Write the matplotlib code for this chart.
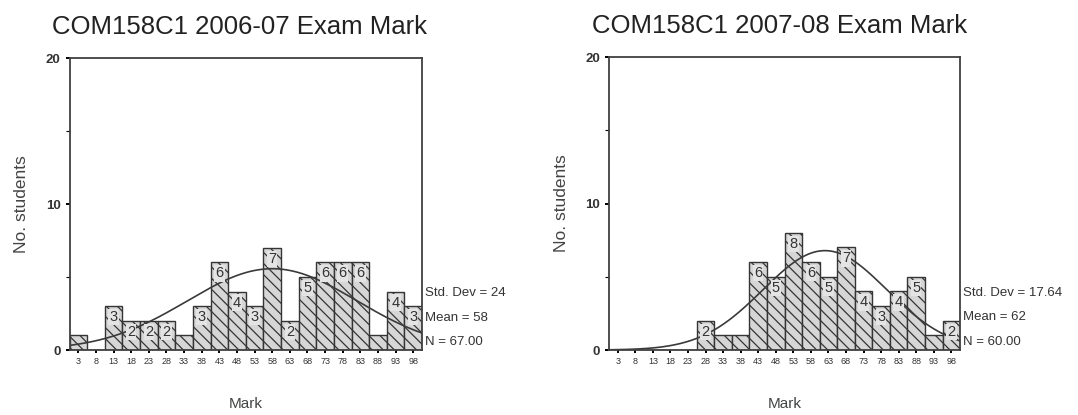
import numpy as np
import matplotlib.pyplot as plt
from matplotlib.ticker import MultipleLocator

# bin centres (width 5) and counts per bin
marks = [3, 8, 13, 18, 23, 28, 33, 38, 43, 48, 53, 58, 63, 68, 73, 78, 83, 88, 93, 98]
counts_0607 = [1, 0, 3, 2, 2, 2, 1, 3, 6, 4, 3, 7, 2, 5, 6, 6, 6, 1, 4, 3]
counts_0708 = [0, 0, 0, 0, 0, 2, 1, 1, 6, 5, 8, 6, 5, 7, 4, 3, 4, 5, 1, 2]

titles = ['COM158C1 2006-07 Exam Mark', 'COM158C1 2007-08 Exam Mark']
std_devs = [24, 17.64]
means = [58, 62]
sd_text = ['24', '17.64']
mean_text = ['58', '62']

plt.rcParams['font.family'] = ['Liberation Sans', 'DejaVu Sans']
plt.rcParams['hatch.color'] = '#808080'
plt.rcParams['hatch.linewidth'] = 0.9

fig = plt.figure(figsize=(10.78, 4.15), dpi=100)
boxes = [[0.0645, 0.1566, 0.327, 0.7036], [0.5650, 0.1566, 0.3256, 0.7060]]
bin_w = 5


def hist_panel(ax, counts, title, sd, mean, sd_lbl, mean_lbl):
    n = sum(counts)
    ax.bar(marks, counts, width=bin_w, color='#d6d6d6', edgecolor='#353535',
           linewidth=1.0, hatch='\\\\\\')
    for m, c in zip(marks, counts):
        if c >= 2:
            ax.text(m, c - 0.75, str(c), ha='center', va='center', fontsize=10.5,
                    color='#333333',
                    bbox=dict(boxstyle='square,pad=0.08', fc='#e4e4e4', ec='none'))
    # fitted normal curve scaled to counts per bin
    xs = np.linspace(0.5, 100.5, 300)
    ys = n * bin_w / (sd * np.sqrt(2 * np.pi)) * np.exp(-0.5 * ((xs - mean) / sd) ** 2)
    ax.plot(xs, ys, color='#3a3a3a', lw=1.2)

    ax.set_xlim(0.5, 100.5)
    ax.set_ylim(0, 20)
    ax.set_xticks(marks)
    ax.set_xticklabels([str(m) for m in marks], fontsize=6.5, color='#333333')
    ax.yaxis.set_major_locator(MultipleLocator(10))
    ax.yaxis.set_minor_locator(MultipleLocator(5))
    ax.tick_params(axis='y', which='major', labelsize=9.5, length=3, width=1.4,
                   labelcolor='#333333')
    for lbl in ax.get_yticklabels():
        lbl.set_fontweight('bold')
    ax.tick_params(axis='y', which='minor', length=3, width=0.8)
    ax.tick_params(axis='x', length=2, width=1.4, pad=3)
    for s in ax.spines.values():
        s.set_color('#404040')
        s.set_linewidth(1.3)
    ax.set_title(title, fontsize=18.5, loc='left', x=-0.05, pad=17, color='#222222')
    ax.set_ylabel('No. students', fontsize=12.5, color='#444444', labelpad=12)
    ax.set_xlabel('Mark', fontsize=11, color='#444444', labelpad=22)
    stats = ['Std. Dev = ' + sd_lbl, 'Mean = ' + mean_lbl, 'N = %.2f' % n]
    for i, t in enumerate(stats):
        ax.text(1.008, 0.195 - i * 0.084, t, transform=ax.transAxes, fontsize=9.5,
                color='#333333', va='center', ha='left')


for k, counts in enumerate([counts_0607, counts_0708]):
    ax = fig.add_axes(boxes[k])
    hist_panel(ax, counts, titles[k], std_devs[k], means[k], sd_text[k], mean_text[k])

fig.savefig('out.png', dpi=100)
